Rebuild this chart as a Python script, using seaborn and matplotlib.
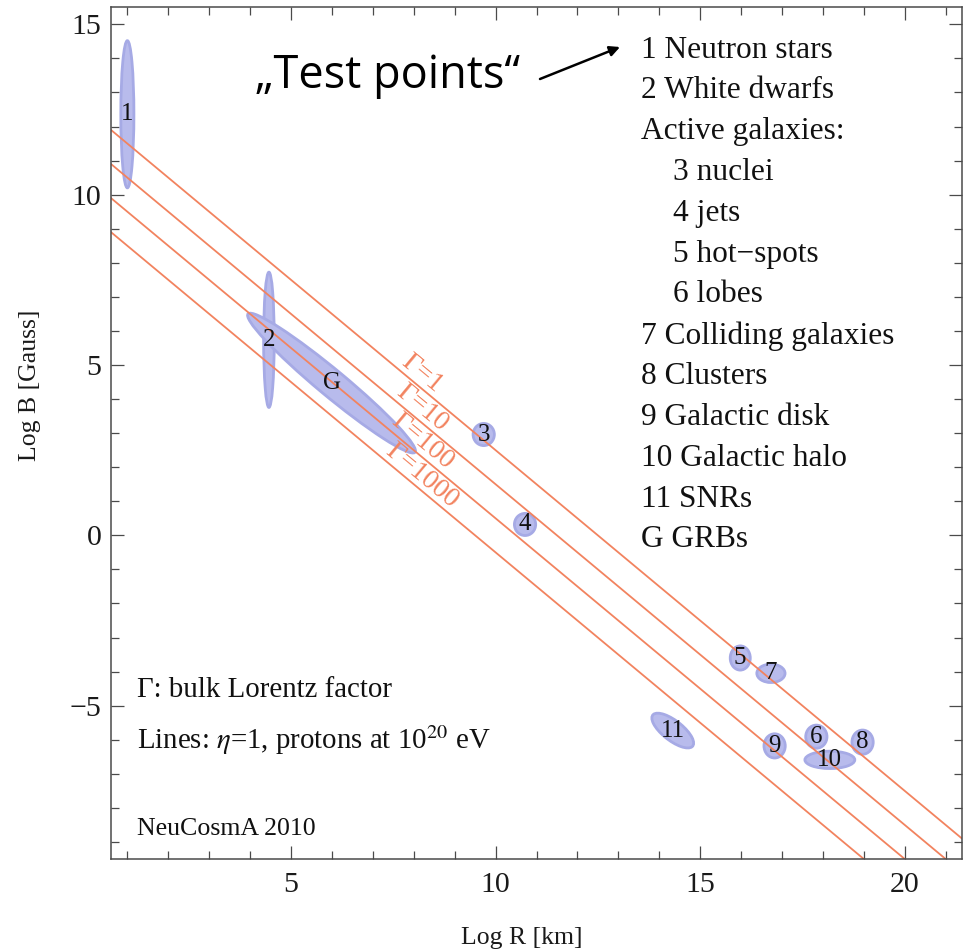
import numpy as np
import pandas as pd
import matplotlib
matplotlib.use("Agg")
import matplotlib.pyplot as plt
import seaborn as sns
from matplotlib.patches import Ellipse
from matplotlib.ticker import MultipleLocator

# Hillas lines: log B = intercept - log R for each bulk Lorentz factor
gamma_values = [1, 10, 100, 1000]
gamma_intercepts = [12.5, 11.5, 10.5, 9.5]

# Source classes (centre, extent and tilt in log R / log B units)
src_labels = ["1", "2", "G", "3", "4", "5", "7", "11", "9", "6", "8", "10"]
src_logr = [1.00, 4.46, 5.99, 9.71, 10.72, 15.98, 16.73, 14.33, 16.82, 17.84, 18.97, 18.17]
src_logb = [12.36, 5.74, 4.47, 2.96, 0.32, -3.60, -4.05, -5.73, -6.18, -5.91, -6.07, -6.59]
src_width = [0.32, 0.26, 5.76, 0.52, 0.52, 0.49, 0.69, 1.34, 0.52, 0.52, 0.52, 1.22]
src_height = [4.32, 3.97, 0.72, 0.65, 0.65, 0.71, 0.54, 0.54, 0.71, 0.68, 0.71, 0.51]
src_angle = [0, 0, -45, 0, 0, 0, 0, -45, 0, 0, 0, 0]

legend_items = ["1 Neutron stars", "2 White dwarfs", "Active galaxies:",
                "3 nuclei", "4 jets", "5 hot\u2212spots", "6 lobes",
                "7 Colliding galaxies", "8 Clusters", "9 Galactic disk",
                "10 Galactic halo", "11 SNRs", "G GRBs"]
legend_indent = [False, False, False, True, True, True, True,
                 False, False, False, False, False, False]

xlim = (0.6, 21.4)
ylim = (-9.5, 15.5)

sns.set_theme(style="ticks")
plt.rcParams["font.family"] = ["Liberation Serif", "DejaVu Serif"]
plt.rcParams["mathtext.fontset"] = "stix"

line_color = "#F2835F"
fill_color = "#B8BBEC"
edge_color = "#A6AAE5"
frame_color = "#4a4a4a"
text_color = "#111111"

fig = plt.figure(figsize=(9.67, 9.52), dpi=100)
ax = fig.add_axes([111 / 967, 93 / 952, 851 / 967, 851.7 / 952])

# source ellipses
for lab, x, y, w, h, a in zip(src_labels, src_logr, src_logb, src_width, src_height, src_angle):
    ax.add_patch(Ellipse((x, y), w, h, angle=a, facecolor=fill_color,
                         edgecolor=edge_color, lw=2, zorder=1))

# Hillas condition lines
rows = []
for g, c in zip(gamma_values, gamma_intercepts):
    for lr in xlim:
        rows.append({"gamma": g, "log_r": lr, "log_b": c - lr})
lines_df = pd.DataFrame(rows)
sns.lineplot(data=lines_df, x="log_r", y="log_b", units="gamma", estimator=None,
             color=line_color, lw=1.3, legend=False, ax=ax, zorder=2)

for g, c in zip(gamma_values, gamma_intercepts):
    xl = 8.2
    ax.text(xl, c - xl + 0.45, f"\u0393={g}", color=line_color, fontsize=20,
            rotation=-45, transform_rotates_text=True, rotation_mode="anchor",
            ha="center", va="center", zorder=3)

# source labels
for lab, x, y in zip(src_labels, src_logr, src_logb):
    ax.text(x, y, lab, fontsize=18, ha="center", va="center", color=text_color, zorder=4)

ax.set_xlim(*xlim)
ax.set_ylim(*ylim)
ax.xaxis.set_major_locator(MultipleLocator(5))
ax.xaxis.set_minor_locator(MultipleLocator(1))
ax.yaxis.set_major_locator(MultipleLocator(5))
ax.yaxis.set_minor_locator(MultipleLocator(1))
ax.tick_params(which="both", direction="in", top=True, right=True,
               color=frame_color, width=0.9, labelsize=21.5, labelcolor="#1a1a1a")
ax.tick_params(which="major", length=9.5)
ax.tick_params(which="minor", length=5.8)
ax.tick_params(axis="x", which="major", pad=9)
ax.tick_params(axis="y", which="major", pad=7)
for s in ax.spines.values():
    s.set_color(frame_color)
    s.set_linewidth(1.1)

ax.set_xlabel("Log R [km]", fontsize=18.5, color="#1a1a1a")
ax.set_ylabel("Log B [Gauss]", fontsize=18.5, color="#1a1a1a")
ax.xaxis.set_label_coords(0.483, -0.0928)
ax.xaxis.label.set_va("center")
ax.yaxis.set_label_coords(-0.095, 0.5566)
ax.yaxis.label.set_va("center")

# source list on the right
y0 = (859 - 50) / 851.7
dy = 40.83 / 851.7
for i, (txt, ind) in enumerate(zip(legend_items, legend_indent)):
    ax.text(0.6225 + (0.038 if ind else 0.0), y0 - i * dy, txt, transform=ax.transAxes,
            fontsize=22.6, ha="left", va="center", color=text_color)

# notes in the lower left
ax.text(0.031, (859 - 690) / 851.7, "\u0393: bulk Lorentz factor", transform=ax.transAxes,
        fontsize=20.8, ha="left", va="center", color=text_color)
ax.text(0.031, (859 - 740) / 851.7, r"Lines: $\eta$=1, protons at 10$^{20}$ eV",
        transform=ax.transAxes, fontsize=20.8, ha="left", va="center", color=text_color)
ax.text(0.031, (859 - 829) / 851.7, "NeuCosmA 2010", transform=ax.transAxes,
        fontsize=18.6, ha="left", va="center", color=text_color)

# callout pointing at the list
ax.text((255 - 111) / 851, (859 - 88) / 851.7, "\u201eTest points\u201c",
        transform=ax.transAxes, fontsize=32.5, ha="left", va="baseline",
        family=["Open Sans", "DejaVu Sans"], color="black")
ax.annotate("", xy=((620 - 111) / 851, (859 - 47) / 851.7),
            xytext=((540 - 111) / 851, (859 - 79) / 851.7),
            xycoords="axes fraction", textcoords="axes fraction",
            arrowprops=dict(arrowstyle="-|>", color="black", lw=1.8, mutation_scale=15,
                            shrinkA=0, shrinkB=0))

fig.savefig("out.png", dpi=100)
